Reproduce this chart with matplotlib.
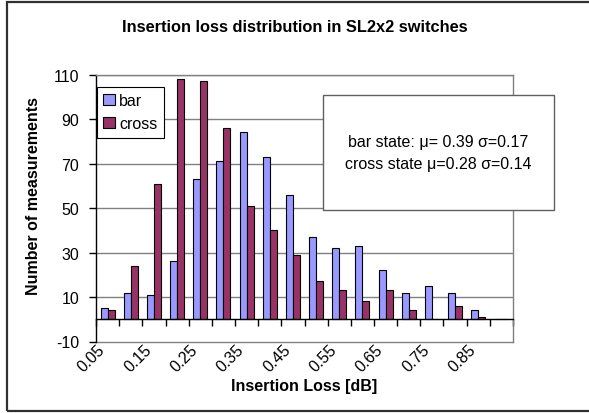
import numpy as np
import matplotlib as mpl

mpl.use("Agg")

import matplotlib.pyplot as plt
import matplotlib.patches as mpatches
import matplotlib.transforms as mtransforms

# ================================
# 数据
# ================================
bins = ["0.05", "0.1", "0.15", "0.2", "0.25", "0.3", "0.35", "0.4", "0.45",
        "0.5", "0.55", "0.6", "0.65", "0.7", "0.75", "0.8", "0.85", "0.9"]
bar_counts = [5, 12, 11, 26, 63, 71, 84, 73, 56, 37, 32, 33, 22, 12, 15, 12, 4, 0]
cross_counts = [4, 24, 61, 108, 107, 86, 51, 40, 29, 17, 13, 8, 13, 4, 0, 6, 1, 0]
y_ticks = [-10, 10, 30, 50, 70, 90, 110]
stats_lines = ["bar state: \u03bc= 0.39 \u03c3=0.17", "cross state \u03bc=0.28 \u03c3=0.14"]

# ================================
# 样式
# ================================
plt.rcParams["font.family"] = ["Liberation Sans", "DejaVu Sans"]
plt.rcParams["axes.linewidth"] = 1.0
FS = 11.5

W, H = 589, 414
fig = plt.figure(figsize=(W / 100, H / 100), dpi=100)
fig.patch.set_facecolor("white")

# 绘图区 (像素 -> 比例)
px_l, px_r, px_t, px_b = 96, 513, 75.6, 342.5
ax = fig.add_axes([px_l / W, 1 - px_b / H, (px_r - px_l) / W, (px_b - px_t) / H])

n = len(bins)
x = np.arange(n)
bw = 0.3
ax.bar(x - bw / 2, bar_counts, width=bw, color="#9999FF", edgecolor="black",
       linewidth=0.8, label="bar", zorder=3)
ax.bar(x + bw / 2, cross_counts, width=bw, color="#993366", edgecolor="black",
       linewidth=0.8, label="cross", zorder=3)

ax.set_xlim(-0.5, n - 0.5)
ax.set_ylim(-10, 110)

# 网格与边框
for yv in y_ticks[1:]:
    ax.axhline(yv, color="#808080", lw=1.0, zorder=1)
ax.axhline(-10, color="#808080", lw=1.0, zorder=1, clip_on=False)
ax.spines["top"].set_color("#808080")
ax.spines["right"].set_color("#808080")
ax.spines["left"].set_color("black")
ax.spines["bottom"].set_position(("data", 0))
ax.spines["bottom"].set_color("black")
ax.spines["bottom"].set_zorder(4)

ax.set_yticks(y_ticks)
ax.set_yticklabels([str(v) for v in y_ticks], fontsize=FS)
ax.tick_params(axis="y", direction="out", length=5, width=1, pad=7)

ax.set_xticks(np.arange(n + 1) - 0.5)
ax.set_xticklabels([])
ax.tick_params(axis="x", direction="out", length=5, width=1)

# 类别标签 (每隔一个)
trans = mtransforms.blended_transform_factory(ax.transData, ax.transAxes)
for i in range(0, n - 1, 2):
    ax.text(i - 0.45, 0.0, bins[i], transform=trans, rotation=45,
            rotation_mode="anchor", ha="right", va="top", fontsize=FS)

fig.text(304.5 / W, 1 - 387 / H, "Insertion Loss [dB]", ha="center", va="center",
         fontsize=FS, fontweight="bold")
fig.text(34 / W, 1 - 196 / H, "Number of measurements", ha="center", va="center",
         rotation=90, fontsize=FS, fontweight="bold")
fig.text(295 / W, 1 - 27 / H, "Insertion loss distribution in SL2x2 switches",
         ha="center", va="center", fontsize=11.8, fontweight="bold")

# 图例
leg = ax.legend(loc="upper left", bbox_to_anchor=(97 / W, 1 - 88 / H),
                bbox_transform=fig.transFigure, borderaxespad=0, fancybox=False,
                edgecolor="black", framealpha=1, fontsize=FS,
                handlelength=0.7, handleheight=0.7, handletextpad=0.3,
                labelspacing=0.5, borderpad=0.4)
leg.get_frame().set_linewidth(0.8)
leg.set_zorder(6)

# 文本框
box = mpatches.Rectangle((323 / W, 1 - 211 / H), (554 - 323) / W, (211 - 96) / H,
                         transform=fig.transFigure, facecolor="white",
                         edgecolor="#606060", lw=1.0, zorder=10)
fig.add_artist(box)
fig.text(438.5 / W, 1 - 143 / H, stats_lines[0], ha="center", va="center",
         fontsize=FS, zorder=11)
fig.text(438.5 / W, 1 - 165 / H, stats_lines[1], ha="center", va="center",
         fontsize=FS, zorder=11)

# 外框
frame = mpatches.Rectangle((7 / W, 1 - 412 / H), 1.0, (412 - 3) / H,
                           transform=fig.transFigure, facecolor="none",
                           edgecolor="#303030", lw=1.6, zorder=12, clip_on=False)
fig.add_artist(frame)

fig.savefig("out.png", dpi=100)
plt.close(fig)
